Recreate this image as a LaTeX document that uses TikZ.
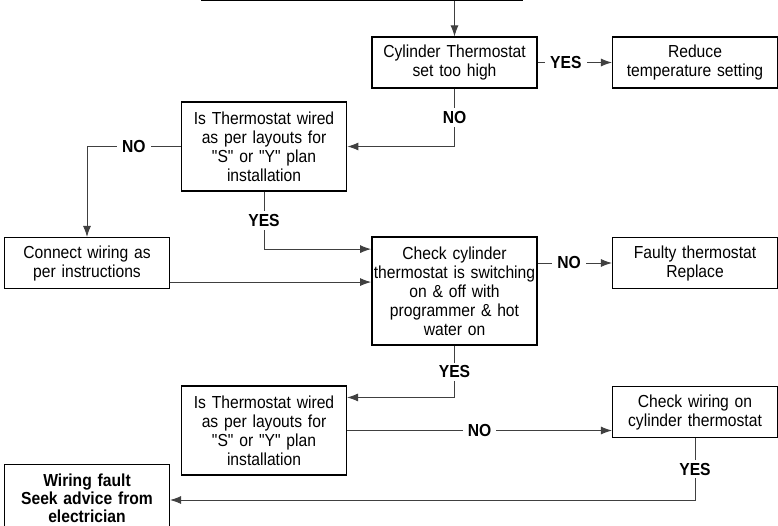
\documentclass[tikz,border=0pt]{standalone}
\usepackage{fontspec}
\setmainfont[FakeStretch=0.9, Ligatures=TeXOff]{Liberation Sans}
\usetikzlibrary{arrows.meta,positioning,calc}
\tikzset{
    >={Latex[length=11pt,width=8pt]},
    box/.style={
        rectangle,
        draw=black, line width=1.1pt,
        text width=161pt, inner xsep=2pt,
        minimum height=51pt,
        align=center,
        font={\fontsize{17.4pt}{19pt}\selectfont}
    },
    heavybox/.style={box, line width=1.8pt},
    flow/.style={draw=black!75, line width=0.9pt, ->},
    answer/.style={
        fill=white, inner xsep=5pt, inner ysep=3pt,
        font={\fontsize{17.4pt}{19pt}\selectfont\bfseries}
    },
}
\begin{document}
\begin{tikzpicture}[x=1pt, y=-1pt]
\useasboundingbox[fill=white] (0,0) rectangle (778,525);
% boxes
\node(top)[box, text width=316pt, minimum height=40pt, anchor=south] at (362,1){};
\node(cyl)[box] at (454.5,62.5){Cylinder Thermostat\\set too high};
\node(reduce)[box] at (695,62.5){Reduce\\temperature setting};
\node(isw1)[heavybox, minimum height=89pt] at (264,146.5){Is Thermostat wired\\as per layouts for\\"S" or "Y" plan\\installation};
\node(conn)[box] at (87,263){Connect wiring as\\per instructions};
\node(chk)[heavybox, minimum height=108pt, text width=165pt, inner xsep=0pt] at (454.5,291){Check cylinder\\thermostat is switching\\on \& off with\\programmer \& hot\\water on};
\node(faulty)[box] at (695,263){Faulty thermostat\\Replace};
\node(isw2)[box, minimum height=89pt] at (264,430.5){Is Thermostat wired\\as per layouts for\\"S" or "Y" plan\\installation};
\node(chkw)[box] at (695,412){Check wiring on\\cylinder thermostat};
\node(wf)[box, minimum height=68pt, anchor=north, font={\fontsize{17.4pt}{18pt}\selectfont\bfseries}] at (87,464){Wiring fault\\Seek advice from\\electrician};
% connectors
\draw[flow] (top.south -| cyl.north) -- (cyl.north);
\draw[flow] (cyl) -- node[answer, pos=0.38]{YES} (reduce);
\draw[flow] (cyl) |- node[answer, pos=0.25]{NO} (isw1);
\draw[flow] (isw1) -| node[answer, pos=0.25]{NO} (conn);
\draw[flow] (isw1) |- node[answer, pos=0.25]{YES} ([yshift=-13pt]chk.north west);
\draw[flow] ([yshift=7pt]conn.south east) -- ([yshift=7pt]conn.south east -| chk.west);
\draw[flow] (chk.east |- faulty.west) -- node[answer, pos=0.42]{NO} (faulty);
\draw[flow] (chk) |- node[answer, pos=0.25]{YES} ([yshift=-12pt]isw2.north east);
\draw[flow] (isw2) -- node[answer]{NO} (isw2 -| chkw.west);
\draw[flow] (chkw) |- node[answer, pos=0.25]{YES} ([yshift=-36pt]wf.north east);
\end{tikzpicture}
\end{document}
